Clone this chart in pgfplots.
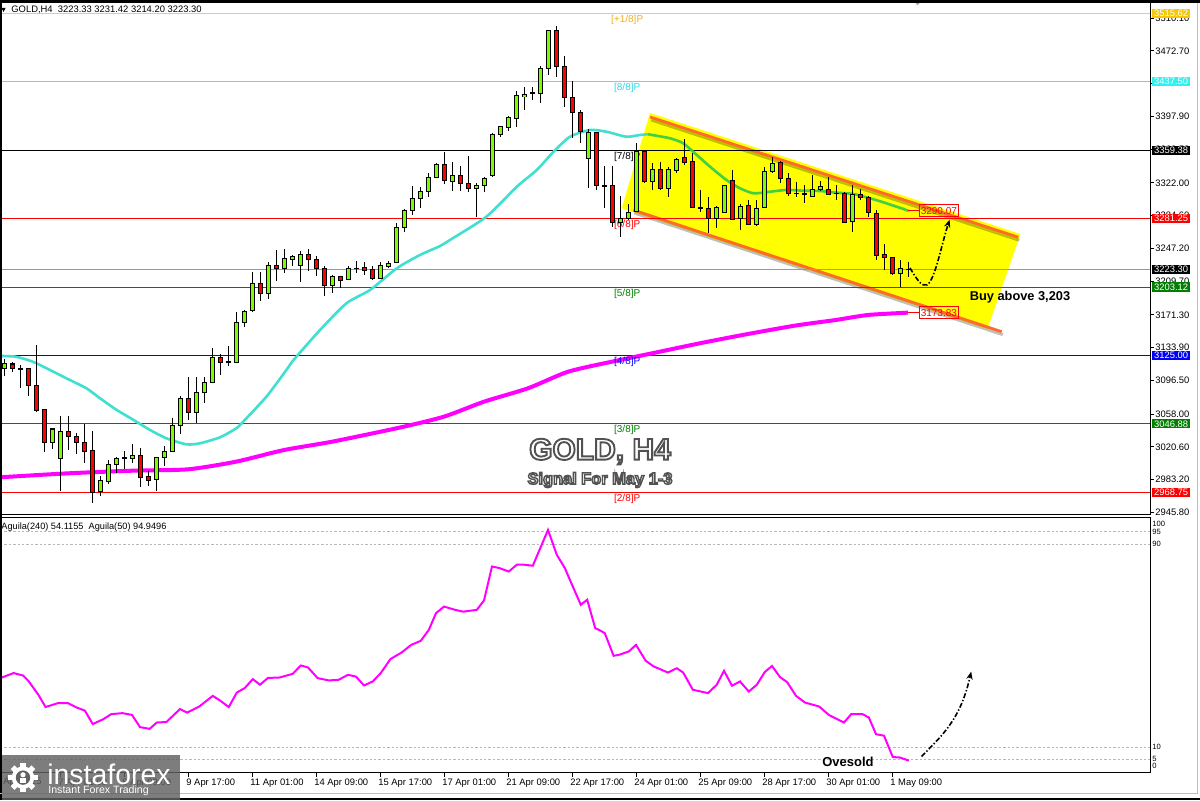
\documentclass[border=0pt]{standalone}
\usepackage{pgfplots}
\pgfplotsset{compat=1.18}
\usepackage{pgfplotstable}
\usepackage{fontspec}
\setmainfont{Liberation Sans}
\usetikzlibrary{arrows.meta}
\definecolor{cgreen}{HTML}{7CFC00}
\definecolor{cred}{HTML}{FF0000}
\definecolor{macyan}{HTML}{40E0D0}
\definecolor{magreen}{HTML}{40D040}
\definecolor{mag}{HTML}{FF00FF}
\definecolor{chyel}{HTML}{FFFF00}
\definecolor{chorange}{HTML}{FF6A28}
\definecolor{lvgold}{HTML}{F2D048}
\definecolor{lvcyan}{HTML}{3CEAF2}
\definecolor{lvgreen}{HTML}{008000}
\definecolor{lvblue}{HTML}{0000FF}
\definecolor{lvslate}{HTML}{8C9CB0}
\definecolor{txgold}{HTML}{F0B020}
\definecolor{txcyan}{HTML}{30D8E8}
\definecolor{bxgold}{HTML}{F5C800}
\definecolor{bxcyan}{HTML}{30F0F0}
\definecolor{dashgray}{HTML}{B8B8B8}
\newcommand\myfs[1]{\fontsize{#1}{#1}\selectfont}
\newcommand\strokeon[1]{\special{pdf:literal direct 2 Tr #1 w 0.32 G}}
\newcommand\strokeoff{\special{pdf:literal direct 0 Tr 1 w 0 G}}

\pgfplotstableread{
i o h l c
0 3110.3 3120.9 3101.5 3116.0
1 3115.2 3117.2 3106.4 3110.3
2 3109.8 3114.1 3087.5 3109.2
3 3109.5 3110.3 3079.0 3090.4
4 3091.2 3136.9 3060.1 3061.9
5 3062.7 3063.5 3015.1 3025.8
6 3025.8 3042.5 3018.2 3041.0
7 3007.6 3055.9 2970.6 3038.7
8 3038.7 3055.9 3017.0 3032.2
9 3033.0 3036.1 3012.5 3025.4
10 3025.8 3046.7 3001.9 3015.1
11 3015.9 3038.7 2956.2 2968.7
12 2969.4 2987.7 2964.5 2982.0
13 2980.8 3005.6 2978.2 3000.7
14 3000.3 3009.4 2991.1 3006.8
15 3007.3 3015.9 2995.0 3007.9
16 3007.6 3023.5 3002.5 3011.0
17 3011.0 3019.0 2975.1 2985.9
18 2986.6 2993.1 2975.9 2982.0
19 2983.9 3009.4 2970.6 3008.7
20 3008.7 3021.6 2998.8 3015.6
21 3015.6 3053.2 3015.1 3045.2
22 3044.8 3078.7 3035.3 3076.1
23 3076.1 3100.0 3051.3 3060.1
24 3060.1 3100.0 3048.2 3082.9
25 3082.9 3100.0 3071.0 3094.3
26 3094.3 3133.2 3093.2 3122.9
27 3122.9 3126.6 3102.7 3117.2
28 3117.2 3135.8 3112.9 3117.8
29 3117.2 3174.9 3116.7 3162.4
30 3162.8 3176.9 3157.8 3174.9
31 3176.1 3219.9 3174.9 3207.4
32 3207.4 3219.9 3187.5 3195.9
33 3195.9 3231.3 3189.4 3227.5
34 3227.9 3245.4 3210.3 3224.0
35 3224.5 3246.2 3219.5 3235.1
36 3234.8 3239.7 3227.1 3238.2
37 3227.5 3244.2 3209.2 3240.5
38 3240.5 3246.5 3221.7 3234.8
39 3234.8 3238.5 3215.7 3224.5
40 3224.5 3227.5 3193.2 3204.6
41 3204.6 3216.8 3195.9 3214.6
42 3214.6 3215.7 3201.6 3211.1
43 3211.9 3227.1 3211.1 3224.8
44 3224.2 3233.2 3218.8 3224.8
45 3225.6 3232.0 3216.8 3222.5
46 3222.9 3227.5 3211.1 3213.1
47 3213.1 3232.0 3211.9 3227.5
48 3227.1 3233.2 3225.2 3230.2
49 3230.9 3276.5 3230.2 3271.3
50 3271.3 3292.2 3266.3 3290.7
51 3290.7 3318.4 3285.7 3303.9
52 3303.9 3317.6 3293.7 3312.7
53 3312.7 3332.9 3305.5 3328.4
54 3328.4 3344.4 3327.2 3343.2
55 3343.2 3357.6 3320.7 3324.5
56 3323.4 3345.5 3313.1 3329.9
57 3329.9 3341.6 3313.1 3321.5
58 3321.5 3353.0 3311.9 3315.8
59 3315.8 3321.5 3283.4 3319.2
60 3318.8 3329.1 3311.3 3327.2
61 3331.0 3378.6 3329.1 3377.5
62 3377.5 3387.0 3374.7 3386.2
63 3385.0 3398.4 3381.6 3396.4
64 3395.3 3427.3 3386.2 3421.2
65 3420.4 3431.8 3405.2 3423.1
66 3424.0 3431.8 3416.6 3424.6
67 3424.3 3455.8 3412.9 3452.8
68 3452.8 3496.0 3445.2 3495.4
69 3495.4 3501.1 3443.2 3454.7
70 3454.7 3466.9 3408.3 3419.7
71 3419.7 3438.3 3372.9 3402.6
72 3402.6 3405.2 3367.2 3380.4
73 3350.1 3383.5 3315.8 3379.8
74 3379.8 3380.5 3313.9 3318.8
75 3319.1 3341.6 3293.0 3318.5
76 3318.8 3341.6 3271.3 3277.0
77 3277.0 3307.4 3260.6 3281.6
78 3281.6 3297.9 3279.6 3288.4
79 3289.9 3367.2 3289.1 3357.6
80 3357.6 3359.5 3321.5 3323.4
81 3323.4 3344.4 3313.9 3336.7
82 3336.7 3345.5 3313.9 3315.8
83 3315.8 3340.5 3306.2 3337.5
84 3336.7 3350.8 3332.9 3348.9
85 3351.2 3372.1 3342.4 3345.1
86 3346.2 3355.8 3293.0 3294.1
87 3293.4 3313.9 3289.1 3294.0
88 3293.0 3306.2 3265.1 3281.6
89 3281.6 3295.6 3270.2 3294.1
90 3288.0 3319.6 3287.3 3318.8
91 3324.5 3336.7 3279.6 3280.4
92 3280.8 3297.6 3268.2 3294.8
93 3296.0 3302.5 3273.9 3274.7
94 3274.7 3302.5 3273.1 3293.0
95 3294.1 3340.5 3293.0 3334.8
96 3334.8 3351.2 3332.9 3344.4
97 3345.5 3347.3 3322.2 3327.2
98 3327.2 3333.6 3307.4 3310.1
99 3310.4 3323.4 3306.2 3309.8
100 3309.3 3319.6 3298.7 3308.7
101 3306.2 3330.9 3305.5 3314.7
102 3314.7 3324.5 3313.1 3317.6
103 3314.7 3328.4 3308.2 3309.3
104 3310.4 3319.6 3302.5 3309.8
105 3310.1 3311.9 3275.9 3277.0
106 3277.7 3319.6 3266.3 3308.2
107 3308.2 3315.0 3302.5 3305.5
108 3305.5 3307.0 3283.4 3288.4
109 3287.3 3291.0 3234.0 3238.9
110 3239.7 3251.9 3222.5 3237.0
111 3237.0 3237.7 3216.8 3218.0
112 3218.8 3234.0 3203.5 3224.5
113 3223.33 3231.42 3214.20 3223.30
}\candles

\pgfplotstableread{
x y
-0.5 3124.4
1.5 3123.5
3.6 3117.8
5.75 3108.4
7.8 3098.9
10.3 3087.5
12 3076.1
14.1 3062.7
16.2 3051.3
18.25 3039.9
20.3 3030.4
22.8 3023.5
24.5 3024.7
27 3031.5
28.7 3039.9
29.5 3045.6
32.8 3077.9
35.3 3108.4
36.2 3119.8
39.5 3154.0
42.8 3184.5
45.75 3199.7
49.1 3224.5
52 3239.7
54.5 3249.9
55.75 3256.8
60.3 3283.4
64.1 3317.6
66.6 3336.7
68.7 3357.6
70.75 3374.7
73.25 3382.4
75.3 3380.4
77.8 3374.7
79.5 3376.7
80.5 3377.5
}\macyan

\pgfplotstableread{
x y
80.5 3377.5
83.25 3372.9
84.9 3367.2
86.6 3353.8
88.25 3340.5
90.3 3325.3
92 3315.8
93.7 3310.1
95.75 3311.9
97.8 3313.9
99.9 3313.1
102 3312.7
104.1 3310.8
106.2 3309.3
108.25 3304.4
110.3 3298.7
112.8 3291.0
113 3290.07
}\magreen

\pgfplotstableread{
x y
-0.5 2985.9
8 2990.4
16 2993.4
23 2995.0
29 3003.7
35 3017.0
41 3026.5
49.5 3042.7
55 3055.1
60 3072.2
65.5 3087.5
70.5 3106.4
76 3117.9
81 3127.4
87 3138.9
93 3149.5
99 3159.2
104 3165.5
108 3171.2
113 3173.83
}\mamag

\pgfplotstableread{
x v
-0.3 37.4
1.2 39.2
2.4 38.2
3.1 35.9
4.3 30.6
5.2 25.8
6.7 27.3
8.0 27.3
9.1 25.6
10.1 24.4
11.1 19.1
12.4 21.0
13.4 23.0
14.8 23.4
16.0 22.7
17.0 17.9
18.2 17.2
19.1 19.7
20.3 19.9
22.0 25.0
22.9 23.6
24.4 26.0
26.1 30.2
27.0 28.4
28.1 25.8
29.1 31.5
30.1 33.3
31.1 36.8
32.0 34.6
33.0 37.3
34.4 37.4
36.1 38.9
37.1 42.2
38.0 41.4
39.2 37.2
40.6 36.3
41.8 36.5
43.0 38.5
44.0 37.8
45.0 34.3
46.1 35.9
47.1 39.2
48.3 44.7
49.7 47.3
50.9 50.3
52.1 51.9
53.1 56.2
54.0 62.8
55.0 65.4
56.4 64.1
57.4 63.4
59.1 64.1
60.0 67.8
61.0 81.2
61.9 80.6
63.1 79.2
64.1 81.9
65.0 81.9
66.1 81.5
68.0 95.6
69.1 85.8
70.1 80.6
71.0 74.0
72.1 66.1
72.9 68.1
73.9 56.9
74.5 56.0
75.1 54.9
76.2 46.0
76.9 46.4
78.1 47.7
79.0 50.3
80.2 44.1
81.2 41.8
83.0 39.4
84.1 41.1
84.9 39.4
86.1 32.6
88.0 31.3
89.1 34.6
90.0 40.1
91.0 34.2
92.0 35.9
93.1 31.9
94.1 34.6
95.1 39.6
96.0 42.0
97.0 37.6
97.9 35.6
99.0 30.2
100.1 27.6
101.9 26.0
103.1 22.7
105.0 19.7
105.9 23.0
107.3 23.0
108.1 21.7
109.0 15.1
110.0 14.5
111.1 6.1
112.0 5.9
113.1 4.7
}\aguila

\pgfplotsset{candlebar/.style={draw=none, mark=none,
  error bars/.cd, y dir=both, y explicit, error mark=none, /pgfplots/.cd}}

\begin{document}
\begin{tikzpicture}
\useasboundingbox (0,0) rectangle (600pt,400pt);
\fill[white] (0,0) rectangle (600pt,400pt);

% ---------------- main price panel ----------------
\begin{axis}[name=main, at={(0pt,143pt)}, anchor=south west,
  width=575pt, height=256pt, scale only axis,
  xmin=-0.5, xmax=143.25, ymin=2943.97, ymax=3528.5,
  axis line style={black, line width=0.5pt},
  xtick=\empty,
  ytick={2945.8,2983.2,3020.6,3058.0,3096.5,3133.9,3171.3,3209.7,3247.2,3284.6,3322.0,3360.5,3397.9,3435.3,3472.7,3510.1},
  ytick pos=right, yticklabel pos=right, tick align=outside,
  major tick length=2pt, tick style={black, line width=0.4pt},
  yticklabel style={font=\myfs{4.7}, anchor=west, inner sep=0.5pt,
    /pgf/number format/.cd, fixed, fixed zerofill, precision=2, 1000 sep={}, assume math mode=true},
]
% channel
\addplot[fill=chyel, draw=none] coordinates {(80.75,3401.8) (127.06,3263.6) (122.94,3155.2) (77.21,3293.0)};
\addplot[black, opacity=0.25, line width=1.5pt] coordinates {(80.9,3393.8) (126.9,3256.5)};
\addplot[black, opacity=0.25, line width=1.5pt] coordinates {(78.8,3287.6) (124.85,3148.7)};
\addplot[chorange, line width=1.4pt] coordinates {(80.75,3397.2) (126.79,3259.9)};
\addplot[chorange, line width=1.4pt] coordinates {(78.66,3291.0) (124.71,3152.1)};
% murrey levels
\addplot[lvgold, line width=0.7pt] coordinates {(-0.5,3515.62) (143.25,3515.62)};
\addplot[lvcyan, line width=0.6pt] coordinates {(-0.5,3437.50) (143.25,3437.50)};
\addplot[black, line width=0.5pt] coordinates {(-0.5,3359.38) (143.25,3359.38)};
\addplot[cred, line width=0.5pt] coordinates {(-0.5,3281.25) (143.25,3281.25)};
\addplot[lvslate, line width=0.5pt] coordinates {(-0.5,3223.30) (143.25,3223.30)};
\addplot[lvgreen, line width=0.5pt] coordinates {(-0.5,3203.12) (143.25,3203.12)};
\addplot[lvblue, line width=0.5pt] coordinates {(-0.5,3125.00) (143.25,3125.00)};
\addplot[lvgreen, line width=0.5pt] coordinates {(-0.5,3046.88) (143.25,3046.88)};
\addplot[cred, line width=0.5pt] coordinates {(-0.5,2968.75) (143.25,2968.75)};
% moving averages
\addplot[macyan, line width=1.3pt, smooth, tension=0.4] table[x=x, y=y] {\macyan};
\addplot[magreen, line width=1.3pt, smooth, tension=0.4] table[x=x, y=y] {\magreen};
\addplot[mag, line width=2pt, smooth, tension=0.4] table[x=x, y=y] {\mamag};
\addplot[cred, line width=0.4pt] coordinates {(113,3290.07) (114.4,3290.07)};
\addplot[cred, line width=0.4pt] coordinates {(113,3173.83) (114.4,3173.83)};
% level labels
\node[font=\myfs{5}, text=txgold, yshift=-3.25pt] at (axis cs:77.9,3515.62) {[+1/8]P};
\node[font=\myfs{5}, text=txcyan, yshift=-3.25pt] at (axis cs:77.9,3437.50) {[8/8]P};
\node[font=\myfs{5}, text=black, yshift=-3.25pt] at (axis cs:77.9,3359.38) {[7/8]P};
\node[font=\myfs{5}, text=cred, yshift=-3.25pt] at (axis cs:77.9,3281.25) {[6/8]P};
\node[font=\myfs{5}, text=lvgreen, yshift=-3.25pt] at (axis cs:77.9,3203.12) {[5/8]P};
\node[font=\myfs{5}, text=lvblue, yshift=-3.25pt] at (axis cs:77.9,3125.00) {[4/8]P};
\node[font=\myfs{5}, text=lvgreen, yshift=-3.25pt] at (axis cs:77.9,3046.88) {[3/8]P};
\node[font=\myfs{5}, text=cred, yshift=-3.25pt] at (axis cs:77.9,2968.75) {[2/8]P};
% candles: wicks
\addplot[candlebar, error bars/error bar style={draw=black, solid, line width=0.5pt, line cap=butt}]
  table[x=i, y expr={(\thisrow{h}+\thisrow{l})/2}, y error expr={(\thisrow{h}-\thisrow{l})/2}] {\candles};
% bodies outline
\addplot[candlebar, error bars/error bar style={draw=black, solid, line width=2.5pt, line cap=butt}]
  table[x=i, y expr={(\thisrow{o}+\thisrow{c})/2}, y error expr={abs(\thisrow{c}-\thisrow{o})/2+0.6}] {\candles};
% green bodies
\addplot[restrict expr to domain={\thisrow{c}-\thisrow{o}}{0:100000}, candlebar,
  error bars/error bar style={draw=cgreen, solid, line width=1.5pt, line cap=butt}]
  table[x=i, y expr={(\thisrow{o}+\thisrow{c})/2}, y error expr={max(abs(\thisrow{c}-\thisrow{o})/2-0.55,0)}] {\candles};
% red bodies
\addplot[restrict expr to domain={\thisrow{c}-\thisrow{o}}{-100000:0}, candlebar,
  error bars/error bar style={draw=cred, solid, line width=1.5pt, line cap=butt}]
  table[x=i, y expr={(\thisrow{o}+\thisrow{c})/2}, y error expr={max(abs(\thisrow{c}-\thisrow{o})/2-0.55,0)}] {\candles};
% annotations
\node[draw=cred, line width=0.4pt, text=cred, font=\myfs{5}, anchor=west, inner xsep=0.6pt, inner ysep=0pt, minimum height=6pt] at (axis cs:114.4,3290.07) {3290.07};
\node[draw=cred, line width=0.4pt, text=cred, font=\myfs{5}, anchor=west, inner xsep=0.6pt, inner ysep=0pt, minimum height=6pt] at (axis cs:114.4,3173.83) {3173.83};
\node[font=\bfseries\myfs{6.4}] at (axis cs:127,3191.1) {Buy above 3,203};
\draw[black, line width=0.8pt, dash pattern=on 2.5pt off 1pt on 0.7pt off 1pt, -{Stealth[length=4pt, width=3.2pt]}]
  (axis cs:113.25,3224.8) .. controls (axis cs:114.1,3212) and (axis cs:114.7,3203) .. (axis cs:115.4,3205.5)
  .. controls (axis cs:116.4,3212) and (axis cs:117.2,3252) .. (axis cs:118.2,3280);
\coordinate (goldc) at (axis cs:74.5,3015.3);
\coordinate (sigc) at (axis cs:74.5,2982.8);
\coordinate (b1) at (axis cs:143.25,3515.62);
\coordinate (b2) at (axis cs:143.25,3437.50);
\coordinate (b3) at (axis cs:143.25,3359.38);
\coordinate (b4) at (axis cs:143.25,3281.25);
\coordinate (b5) at (axis cs:143.25,3223.30);
\coordinate (b6) at (axis cs:143.25,3203.12);
\coordinate (b7) at (axis cs:143.25,3125.00);
\coordinate (b8) at (axis cs:143.25,3046.88);
\coordinate (b9) at (axis cs:143.25,2968.75);
\end{axis}

% ---------------- indicator panel ----------------
\begin{axis}[name=ind, at={(0pt,13.75pt)}, anchor=south west,
  width=575pt, height=127.75pt, scale only axis,
  xmin=-0.5, xmax=143.25, ymin=0, ymax=100.7,
  axis line style={black, line width=0.5pt},
  ytick=\empty,
  xtick={7,15,23,31,39,47,55,63,71,79,87,95,103,111},
  xticklabels={7 Apr 01:00,8 Apr 09:00,9 Apr 17:00,11 Apr 01:00,14 Apr 09:00,15 Apr 17:00,17 Apr 01:00,21 Apr 09:00,22 Apr 17:00,24 Apr 01:00,25 Apr 09:00,28 Apr 17:00,30 Apr 01:00,1 May 09:00},
  xtick pos=bottom, tick align=outside, major tick length=2pt, tick style={black, line width=0.4pt},
  xticklabel style={font=\myfs{4.7}, anchor=north west, inner sep=0pt, xshift=-1pt, yshift=-1pt},
]
\addplot[dashgray, line width=0.4pt, dash pattern=on 1.2pt off 1pt] coordinates {(-0.5,95) (143.25,95)};
\addplot[dashgray, line width=0.4pt, dash pattern=on 1.2pt off 1pt] coordinates {(-0.5,90) (143.25,90)};
\addplot[dashgray, line width=0.4pt, dash pattern=on 1.2pt off 1pt] coordinates {(-0.5,10) (143.25,10)};
\addplot[dashgray, line width=0.4pt, dash pattern=on 1.2pt off 1pt] coordinates {(-0.5,5) (143.25,5)};
\addplot[mag, line width=1pt] table[x=x, y=v] {\aguila};
\node[font=\bfseries\myfs{6.5}] at (axis cs:105.5,4.2) {Ovesold};
\draw[black, line width=0.8pt, dash pattern=on 2.5pt off 1pt on 0.7pt off 1pt, -{Stealth[length=4pt, width=3.2pt]}]
  (axis cs:114.7,6.3) .. controls (axis cs:117,14) and (axis cs:119.5,20) .. (axis cs:120.9,39.8);
\coordinate (i100) at (axis cs:143.25,98.0);
\coordinate (i95) at (axis cs:143.25,95);
\coordinate (i90) at (axis cs:143.25,90);
\coordinate (i10) at (axis cs:143.25,10);
\coordinate (i5) at (axis cs:143.25,5.5);
\coordinate (i0) at (axis cs:143.25,2.6);
\end{axis}

% right value boxes
\tikzset{vbox/.style={anchor=west, xshift=1pt, font=\myfs{4.7}, text=white, inner xsep=0.9pt, inner ysep=0pt, minimum height=4.6pt}}
\node[vbox, fill=bxgold] at (b1) {3515.62};
\node[vbox, fill=bxcyan] at (b2) {3437.50};
\node[vbox, fill=black] at (b3) {3359.38};
\node[vbox, fill=cred] at (b4) {3281.25};
\node[vbox, fill=black] at (b5) {3223.30};
\node[vbox, fill=lvgreen] at (b6) {3203.12};
\node[vbox, fill=lvblue] at (b7) {3125.00};
\node[vbox, fill=lvgreen] at (b8) {3046.88};
\node[vbox, fill=cred] at (b9) {2968.75};

% indicator scale labels
\tikzset{ilab/.style={anchor=west, xshift=1pt, font=\myfs{3.8}, inner sep=0pt}}
\node[ilab] at (i100) {100};
\node[ilab] at (i95) {95};
\node[ilab] at (i90) {90};
\node[ilab] at (i10) {10};
\node[ilab] at (i5) {5};
\node[ilab] at (i0) {0};

% titles (white letters, stroked grey outline)
\node[font=\bfseries\myfs{15}, text=white] at (goldc) {\strokeon{0.95}GOLD, H4\strokeoff};
\node[font=\bfseries\myfs{8.2}, text=white] at (sigc) {\strokeon{0.7}Signal For May 1-3\strokeoff};

% header texts
\node[anchor=west, font=\myfs{4.7}, inner sep=0pt] at (5.5pt,395pt) {GOLD,H4\ \ 3223.33 3231.42 3214.20 3223.30};
\fill[black] (0.8pt,396pt) -- (2.8pt,396pt) -- (1.8pt,394pt) -- cycle;
\node[anchor=west, font=\myfs{4.6}, inner sep=0pt] at (0.5pt,136.6pt) {Aguila(240) 54.1155\ \ Aguila(50) 94.9496};
\fill[gray!70] (456.5pt,400pt) -- (461pt,400pt) -- (458.75pt,397.3pt) -- cycle;
\node[anchor=north west, font=\myfs{4.7}, inner sep=0pt] at (1.5pt,11.2pt) {Apr 2025};

% frame
\fill[black] (0,398.7pt) rectangle (600pt,400pt);
\fill[black] (0,0) rectangle (1pt,400pt);
\draw[gray!50, line width=0.5pt] (0,3.2pt) -- (598.6pt,3.2pt) -- (598.6pt,398.7pt);
\fill[black] (0,0) rectangle (600pt,1.2pt);

% logo
\fill[black!62, opacity=0.82] (1pt,0pt) rectangle (90pt,22.5pt);
\begin{scope}[shift={(11.5pt,11.2pt)}]
  \foreach \a in {0,45,...,315} {\fill[white, rotate=\a] (-1.3pt,5pt) rectangle (1.3pt,7.3pt);}
  \fill[white] (0,0) circle (5.6pt);
  \fill[black!62] (0,0) circle (3.6pt);
  \fill[white] (0,1.4pt) circle (1.3pt);
  \fill[white] (-1.6pt,-2.8pt) rectangle (1.6pt,0pt);
\end{scope}
\node[anchor=base west, font=\myfs{14.2}, text=white, inner sep=0pt] at (23.5pt,8pt) {instaforex};
\node[anchor=base west, font=\myfs{5.3}, text=white, inner sep=0pt] at (24pt,3.3pt) {Instant Forex Trading};
\end{tikzpicture}
\end{document}
